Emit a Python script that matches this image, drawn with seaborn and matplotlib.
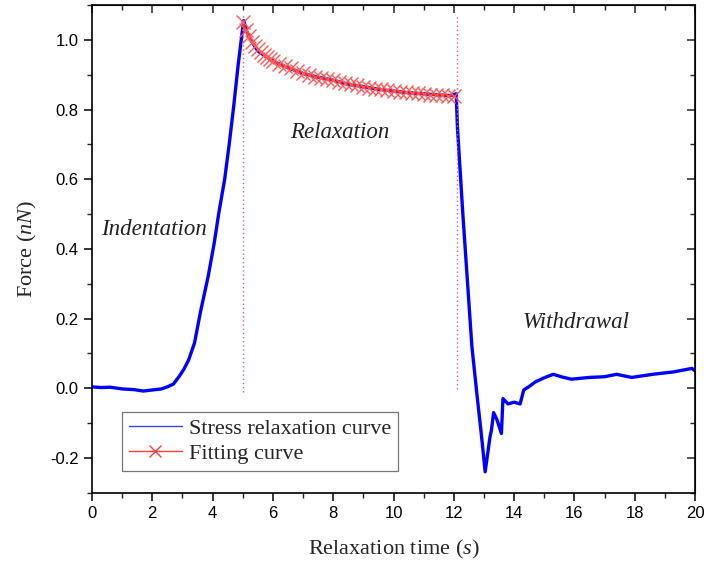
import numpy as np
import pandas as pd
import matplotlib
matplotlib.use('Agg')
import matplotlib.pyplot as plt
import seaborn as sns
from matplotlib.lines import Line2D
from matplotlib.ticker import MultipleLocator

t_stress = [0.0, 0.3, 0.6, 1.0, 1.4, 1.7, 2.0, 2.3, 2.5, 2.7,
            2.9, 3.05, 3.2, 3.4, 3.6, 3.85, 4.05, 4.2, 4.4, 4.55,
            4.7, 4.85, 4.95, 5.03, 5.15, 5.3, 5.5, 5.8, 6.1, 6.5,
            7.0, 7.5, 8.0, 8.5, 9.0, 9.5, 10.0, 10.5, 11.0, 11.5,
            11.9, 12.08, 12.12, 12.3, 12.45, 12.6, 12.77, 12.93, 13.04, 13.12,
            13.2, 13.25, 13.32, 13.43, 13.58, 13.63, 13.8, 14.0, 14.2, 14.32,
            14.5, 14.7, 15.0, 15.3, 15.6, 15.9, 16.5, 17.0, 17.4, 17.9,
            18.6, 19.3, 19.9, 20.0]
f_stress = [0.004, 0.002, 0.003, -0.002, -0.004, -0.008, -0.005, -0.002, 0.004, 0.012,
            0.035, 0.055, 0.08, 0.13, 0.22, 0.32, 0.415, 0.50, 0.60, 0.70,
            0.81, 0.93, 1.0, 1.055, 1.02, 0.995, 0.968, 0.950, 0.935, 0.920,
            0.903, 0.893, 0.884, 0.872, 0.866, 0.858, 0.853, 0.848, 0.845, 0.842,
            0.840, 0.845, 0.75, 0.50, 0.31, 0.12, -0.02, -0.146, -0.24, -0.19,
            -0.14, -0.12, -0.07, -0.09, -0.13, -0.03, -0.045, -0.04, -0.045, -0.005,
            0.005, 0.018, 0.03, 0.04, 0.032, 0.026, 0.031, 0.033, 0.04, 0.031,
            0.04, 0.047, 0.057, 0.05]

# fitted relaxation curve
t_fit = [5.0, 5.1, 5.2, 5.3, 5.4, 5.5, 5.6, 5.7, 5.8, 5.9,
         6.0, 6.2, 6.4, 6.6, 6.8,
         7.0, 7.2, 7.4, 7.6, 7.8, 8.0, 8.2, 8.4, 8.6, 8.8,
         9.0, 9.2, 9.4, 9.6, 9.8, 10.0, 10.2, 10.4, 10.6, 10.8,
         11.0, 11.2, 11.4, 11.6, 11.8, 12.0]
f_fit = [1.050, 1.028, 1.010, 0.995, 0.983, 0.973, 0.964, 0.957, 0.950, 0.944,
         0.939, 0.931, 0.924, 0.918, 0.912,
         0.905, 0.899, 0.894, 0.890, 0.887, 0.884, 0.880, 0.877, 0.873, 0.869,
         0.866, 0.863, 0.860, 0.858, 0.855, 0.853, 0.851, 0.849, 0.848, 0.846,
         0.845, 0.843, 0.842, 0.841, 0.840, 0.839]

phase_bounds = [5.02, 12.1]
phase_labels = ['Indentation', 'Relaxation', 'Withdrawal']
phase_label_pos = [(2.05, 0.456), (8.22, 0.733), (16.05, 0.189)]

stress_df = pd.DataFrame({'t': t_stress, 'force': f_stress})
fit_df = pd.DataFrame({'t': t_fit, 'force': f_fit})

sns.set_style('ticks')
plt.rcParams['font.family'] = ['Liberation Sans', 'DejaVu Sans']
plt.rcParams['mathtext.fontset'] = 'custom'
plt.rcParams['mathtext.it'] = 'Liberation Serif:italic'
plt.rcParams['mathtext.rm'] = 'Liberation Serif'

fig = plt.figure(figsize=(7.04, 5.69), dpi=100)
ax = fig.add_axes([0.1307, 0.1340, 0.8565, 0.8572])

sns.lineplot(data=stress_df, x='t', y='force', ax=ax, color='#0000ff',
             linewidth=2.4, sort=False, estimator=None)
sns.lineplot(data=fit_df, x='t', y='force', ax=ax, color='#ff1a1a',
             linewidth=1.6, marker='x', markersize=10, markeredgewidth=1.0,
             markeredgecolor='#ff5a5a', sort=False, estimator=None)

ax.vlines(phase_bounds, [-0.01, -0.003], [1.078, 1.07], colors='#e8559a',
          linestyles=(0, (1, 2)), linewidth=1.0)

serif = ['Liberation Serif', 'DejaVu Serif']
for lab, (x, y) in zip(phase_labels, phase_label_pos):
    ax.text(x, y, lab, family=serif, style='italic', fontsize=16.5,
            ha='center', va='center', color='#222222')

ax.set_xlim(0, 20)
ax.set_ylim(-0.3, 1.1)
ax.xaxis.set_major_locator(MultipleLocator(2))
ax.xaxis.set_minor_locator(MultipleLocator(1))
ax.yaxis.set_major_locator(MultipleLocator(0.2))
ax.yaxis.set_minor_locator(MultipleLocator(0.1))
ax.yaxis.set_major_formatter(plt.FuncFormatter(lambda v, p: f'{v:.1f}'))

for s in ax.spines.values():
    s.set_linewidth(1.2)
    s.set_color('black')
    s.set_visible(True)

ax.tick_params(which='major', direction='out', length=6, width=1.1, labelsize=12,
               colors='black')
ax.tick_params(which='minor', direction='out', length=3.5, width=1.0)

top = ax.secondary_xaxis('top')
top.xaxis.set_major_locator(MultipleLocator(2))
top.xaxis.set_minor_locator(MultipleLocator(1))
top.tick_params(which='major', direction='in', length=6, width=1.1, labeltop=False)
top.tick_params(which='minor', direction='in', length=3.5, width=1.0)
right = ax.secondary_yaxis('right')
right.yaxis.set_major_locator(MultipleLocator(0.2))
right.yaxis.set_minor_locator(MultipleLocator(0.1))
right.tick_params(which='major', direction='in', length=6, width=1.1, labelright=False)
right.tick_params(which='minor', direction='in', length=3.5, width=1.0)

ax.set_xlabel('Relaxation time ($s$)', family=serif, fontsize=16, labelpad=12)
ax.set_ylabel('Force ($nN$)', family=serif, fontsize=16, labelpad=8)

handles = [Line2D([], [], color='#4040e0', lw=1.0),
           Line2D([], [], color='#ff4040', lw=1.0, marker='x', markersize=9)]
leg = ax.legend(handles, ['Stress relaxation curve', 'Fitting curve'],
                loc='lower left', bbox_to_anchor=(0.05, 0.045),
                prop={'family': serif, 'size': 16}, frameon=True, fancybox=False,
                edgecolor='#555555', handlelength=2.4, borderpad=0.3,
                labelspacing=0.2, handletextpad=0.3, borderaxespad=0)
leg.get_frame().set_linewidth(0.9)

fig.savefig('out.png', dpi=100)
